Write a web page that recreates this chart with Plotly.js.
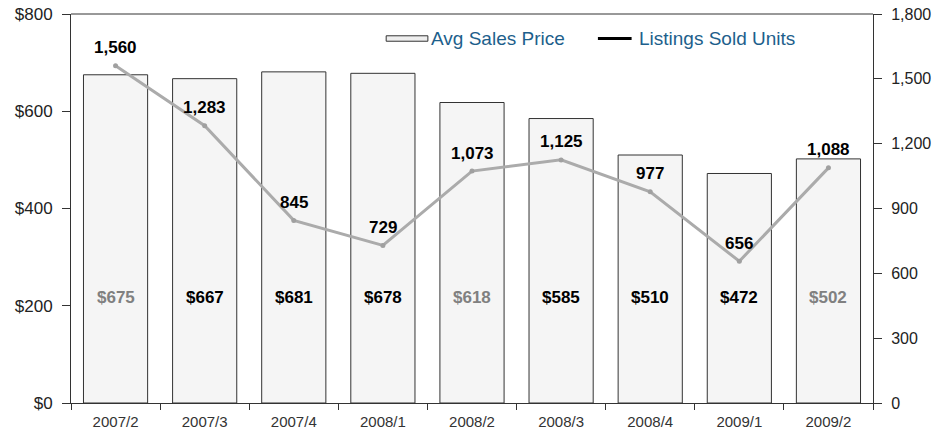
<!DOCTYPE html>
<html>
<head>
<meta charset="utf-8">
<script src="https://cdn.plot.ly/plotly-3.0.1.min.js"></script>
<style>html,body{margin:0;padding:0;background:#fff;}#chart{width:934px;height:430px;}</style>
</head>
<body>
<div id="chart"></div>
<script>
const quarters = ["2007/2","2007/3","2007/4","2008/1","2008/2","2008/3","2008/4","2009/1","2009/2"];
const avgSalesPrice = [675, 667, 681, 678, 618, 585, 510, 472, 502];
const soldUnits = [1560, 1283, 845, 729, 1073, 1125, 977, 656, 1088];
const priceLabelColors = ["#808080","#000","#000","#000","#808080","#000","#000","#000","#808080"];
const leftTicks = [0, 200, 400, 600, 800];
const rightTicks = [0, 300, 600, 900, 1200, 1500, 1800];
const seriesNames = ["Avg Sales Price", "Listings Sold Units"];

const fmtUnits = v => v.toLocaleString("en-US");
const fmtPrice = v => "$" + v;

const FONT = "Liberation Sans, Arial, sans-serif";
const labelFont = {family: FONT, size: 17, color: "#000"};
const legendFont = {family: FONT, size: 19, color: "#1d5f8c"};

const traces = [
  {
    type: "bar", name: seriesNames[0], x: quarters, y: avgSalesPrice,
    marker: {color: "#f5f5f5", line: {color: "#333", width: 1}},
    hoverinfo: "skip"
  },
  {
    type: "scatter", mode: "lines+markers", name: seriesNames[1],
    x: quarters, y: soldUnits, yaxis: "y2",
    line: {color: "#ababab", width: 3},
    marker: {color: "#a0a0a0", size: 5},
    hoverinfo: "skip"
  }
];

const annotations = quarters.map((q, i) => ({
  x: q, y: 218, xref: "x", yref: "y", showarrow: false,
  text: "<b>" + fmtPrice(avgSalesPrice[i]) + "</b>",
  font: Object.assign({}, labelFont, {color: priceLabelColors[i]})
}));

quarters.forEach((q, i) => annotations.push({
  x: q, y: soldUnits[i], xref: "x", yref: "y2", showarrow: false,
  yanchor: "middle", yshift: 18,
  text: "<b>" + fmtUnits(soldUnits[i]) + "</b>",
  font: labelFont
}));

// custom legend (text + symbols) in paper coordinates
annotations.push(
  {xref: "paper", yref: "paper", x: 0.446, y: 0.937, xanchor: "left", yanchor: "middle",
   showarrow: false, text: seriesNames[0], font: legendFont},
  {xref: "paper", yref: "paper", x: 0.706, y: 0.937, xanchor: "left", yanchor: "middle",
   showarrow: false, text: seriesNames[1], font: legendFont}
);

const tickFont = {family: FONT, size: 17, color: "#222"};

const layout = {
  width: 934, height: 430,
  margin: {l: 71, r: 61, t: 14, b: 27},
  paper_bgcolor: "#fff", plot_bgcolor: "#fff",
  showlegend: false,
  bargap: 0.28,
  xaxis: {
    type: "category", categoryarray: quarters,
    showline: true, linecolor: "#333", linewidth: 1, mirror: false,
    ticks: "outside", tickson: "boundaries", ticklen: 6, tickcolor: "#333",
    ticklabelstandoff: 5,
    tickfont: {family: FONT, size: 15, color: "#333"},
    showgrid: false, fixedrange: true
  },
  yaxis: {
    range: [0, 800], tickvals: leftTicks, ticktext: leftTicks.map(fmtPrice),
    showline: true, linecolor: "#333", linewidth: 1,
    ticks: "outside", ticklen: 8, tickcolor: "#333",
    ticklabelstandoff: 6,
    tickfont: tickFont, showgrid: false, zeroline: false, fixedrange: true
  },
  yaxis2: {
    range: [0, 1800], tickvals: rightTicks, ticktext: rightTicks.map(fmtUnits),
    overlaying: "y", side: "right",
    showline: true, linecolor: "#333", linewidth: 1,
    ticks: "outside", ticklen: 8, tickcolor: "#333",
    ticklabelstandoff: 6,
    tickfont: {family: FONT, size: 16, color: "#222"},
    showgrid: false, zeroline: false, fixedrange: true
  },
  shapes: [
    {type: "line", xref: "paper", yref: "paper", x0: 0, x1: 1, y0: 1, y1: 1,
     line: {color: "#333", width: 1}},
    {type: "rect", xref: "paper", yref: "paper", x0: 0.393, x1: 0.445, y0: 0.930, y1: 0.944,
     fillcolor: "#eeeeee", line: {color: "#333", width: 1}},
    {type: "line", xref: "paper", yref: "paper", x0: 0.657, x1: 0.699, y0: 0.937, y1: 0.937,
     line: {color: "#000", width: 3}}
  ],
  annotations: annotations
};

Plotly.newPlot("chart", traces, layout, {displayModeBar: false, staticPlot: true});
</script>
</body>
</html>
